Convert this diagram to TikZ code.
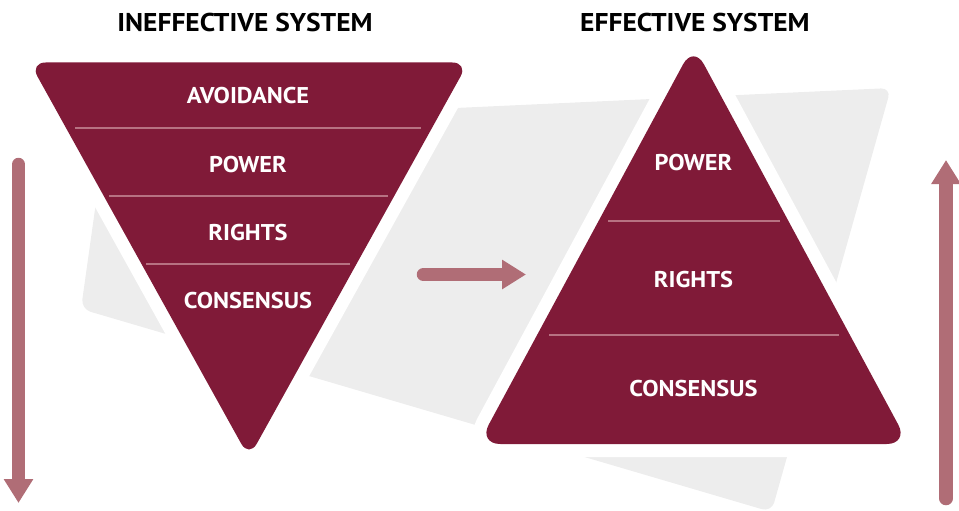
\documentclass[tikz,border=0pt]{standalone}
\usepackage{fontspec}
\setmainfont{PT Sans}[FakeStretch=1.07]
\usetikzlibrary{arrows.meta}
\tikzset{% change default arrow tips
    >={Triangle[width=28pt,length=24pt]}
}
\definecolor{wine}{RGB}{128,26,56}
\definecolor{rose}{RGB}{176,109,118}
\definecolor{roseline}{RGB}{183,114,130}
\definecolor{backgray}{RGB}{237,237,237}

\begin{document}
\begin{tikzpicture}[x=1pt,y=-1pt,
    layer/.style={font=\bfseries\fontsize{22.8}{24}\selectfont, text=white, anchor=base},
    heading/.style={font=\bfseries\fontsize{25.7}{28}\selectfont, anchor=base},
    pyramid/.style={fill=wine, preaction={draw=white, line width=26pt}},
    divider/.style={draw=roseline, line width=2pt},
    fatarrow/.style={->, draw=rose, line width=13.5pt, line cap=round}]
    \useasboundingbox (0,0) rectangle (959,511);

    % gray backdrop
    \fill[backgray, rounded corners=10pt] (107,124) -- (891,88) -- (771.5,512) -- (81,309) -- cycle;

    % arrows
    \coordinate (downtop) at (18.5,164.5);
    \coordinate (downtip) at (18.5,503);
    \coordinate (midtail) at (423.5,274.5);
    \coordinate (midtip)  at (526,274.5);
    \coordinate (uptail)  at (946,498.5);
    \coordinate (uptip)   at (946,160);
    \draw[fatarrow] (downtop) -- (downtip);
    \draw[fatarrow] (midtail) -- (midtip);
    \draw[fatarrow] (uptail) -- (uptip);

    % ineffective system (upside down)
    \path[pyramid, rounded corners=16pt] (29.7,62.5) -- (468.3,62.5) -- (249,457.7) -- cycle;
    \draw[divider] (75,128) -- (421,128);
    \draw[divider] (109,195.5) -- (388,195.5);
    \draw[divider] (146,263.5) -- (350,263.5);
    \node[heading] (badtitle) at (245,31.5) {INEFFECTIVE SYSTEM};
    \node[layer] (badavoid) at (248,103) {AVOIDANCE};
    \node[layer] (badpower) at (248,172) {POWER};
    \node[layer] (badrights) at (248,240) {RIGHTS};
    \node[layer] (badcons) at (248,308.5) {CONSENSUS};

    % effective system
    \path[pyramid, rounded corners=22pt] (693.5,45) -- (908.7,444) -- (478.3,444) -- cycle;
    \draw[divider] (608,221) -- (780,221);
    \draw[divider] (549,335) -- (839,335);
    \node[heading] (goodtitle) at (695,31.5) {EFFECTIVE SYSTEM};
    \node[layer] (goodpower) at (693.5,170.5) {POWER};
    \node[layer] (goodrights) at (693.5,287.5) {RIGHTS};
    \node[layer] (goodcons) at (693.5,396.5) {CONSENSUS};
\end{tikzpicture}
\end{document}
